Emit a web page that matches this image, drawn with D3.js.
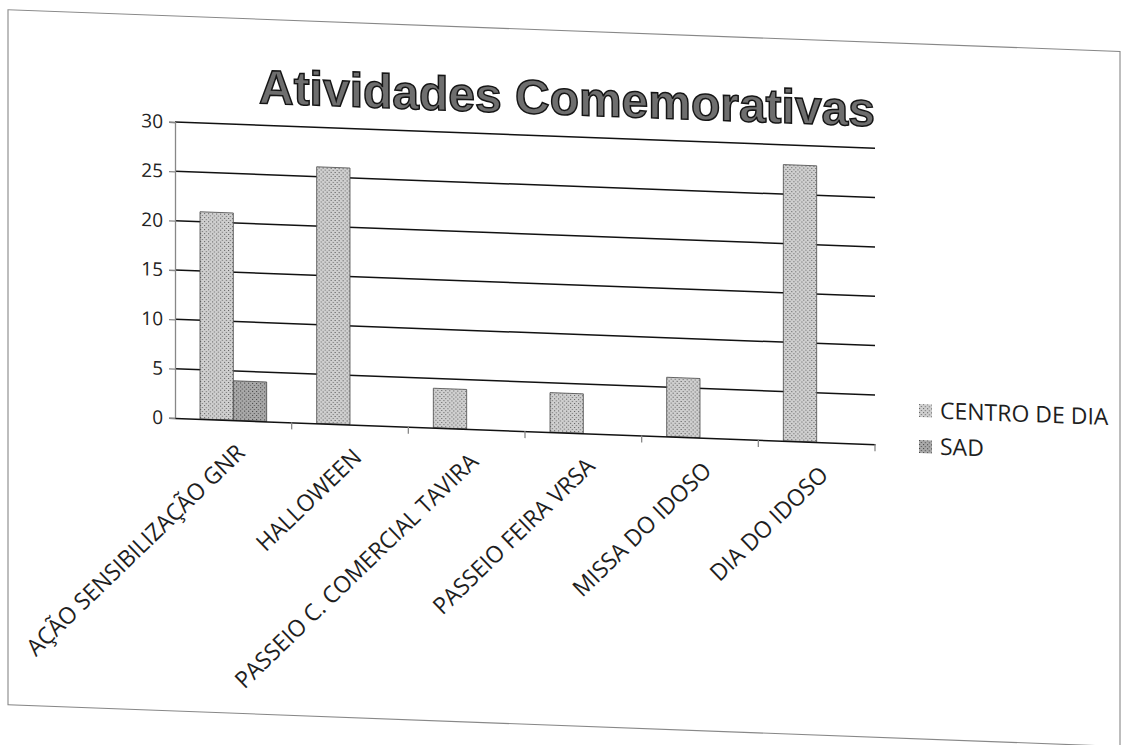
<!DOCTYPE html>
<html>
<head>
<meta charset="utf-8">
<script src="https://cdn.jsdelivr.net/npm/d3@7"></script>
<style>
  body { margin: 0; background: #fff; }
  text { font-family: "Open Sans", sans-serif; }
</style>
</head>
<body>
<div id="chart"></div>
<script>
// data
var categories = ["AÇÃO SENSIBILIZAÇÃO GNR", "HALLOWEEN", "PASSEIO C. COMERCIAL TAVIRA",
                  "PASSEIO FEIRA VRSA", "MISSA DO IDOSO", "DIA DO IDOSO"];
var centroDeDia = [21, 26, 4, 4, 6, 28];
var sad = [4, 0, 0, 0, 0, 0];
var seriesNames = ["CENTRO DE DIA", "SAD"];
var yTicks = [0, 5, 10, 15, 20, 25, 30];

var W = 1128, H = 745;
var plot = {left: 175, right: 875, top: 122, bottom: 418};
var skew = 2.15; // the page was scanned a bit crooked

var svg = d3.select("#chart")
  .append("svg")
    .attr("width", W)
    .attr("height", H);

// grainy fills like the photocopy
var defs = svg.append("defs");
function grain(id, bg, dot) {
  var p = defs.append("pattern")
    .attr("id", id)
    .attr("width", 4).attr("height", 4)
    .attr("patternUnits", "userSpaceOnUse");
  p.append("rect").attr("width", 4).attr("height", 4).attr("fill", bg);
  p.append("rect").attr("x", 0).attr("y", 0).attr("width", 1).attr("height", 1).attr("fill", dot);
  p.append("rect").attr("x", 2).attr("y", 2).attr("width", 1).attr("height", 1).attr("fill", dot);
}
grain("gCentro", "#cfcfcf", "#5a5a5a");
grain("gSad", "#a9a9a9", "#3c3c3c");
var fills = {"CENTRO DE DIA": "url(#gCentro)", "SAD": "url(#gSad)"};

var g = svg.append("g")
  .attr("transform", "translate(" + plot.left + ",0) skewY(" + skew + ") translate(" + (-plot.left) + ",0)");

// outer frame of the chart area
g.append("rect")
  .attr("x", 8).attr("y", 16)
  .attr("width", 1112).attr("height", 695)
  .attr("fill", "none")
  .attr("stroke", "#888")
  .attr("stroke-width", 1.1);

// title
g.append("text")
  .attr("x", 567)
  .attr("y", 100)
  .attr("text-anchor", "middle")
  .style("font-family", "'Liberation Sans', Arial, sans-serif")
  .style("font-weight", "bold")
  .style("font-size", "48px")
  .attr("fill", "#6e6e6e")
  .attr("stroke", "#151515")
  .attr("stroke-width", 1.5)
  .text("Atividades Comemorativas");

var x = d3.scaleBand()
  .domain(categories)
  .range([plot.left, plot.right]);

var y = d3.scaleLinear()
  .domain([0, 30])
  .range([plot.bottom, plot.top]);

var xSub = d3.scaleBand()
  .domain(seriesNames)
  .range([0, x.bandwidth() * 2 / 3.5]);

// gridlines
g.append("g")
  .selectAll("line")
  .data(yTicks.filter(function(d) { return d > 0; }))
  .enter()
  .append("line")
    .attr("x1", plot.left)
    .attr("x2", plot.right)
    .attr("y1", function(d) { return y(d); })
    .attr("y2", function(d) { return y(d); })
    .attr("stroke", "#111")
    .attr("stroke-width", 1.5);

// y axis
var yAxis = g.append("g")
  .attr("transform", "translate(" + plot.left + ",0)")
  .call(d3.axisLeft(y).tickValues(yTicks).tickSize(6).tickPadding(6));
yAxis.select(".domain").attr("stroke", "#888").attr("stroke-width", 1.3);
yAxis.selectAll(".tick line").attr("stroke", "#888").attr("stroke-width", 1.3);
yAxis.selectAll("text")
  .style("font-family", "'Open Sans', sans-serif")
  .style("font-size", "19px")
  .attr("fill", "#222");

// bars
var groups = g.append("g")
  .selectAll("g")
  .data(categories)
  .enter()
  .append("g")
    .attr("transform", function(d) {
      return "translate(" + (x(d) + x.bandwidth() / 2 - xSub.range()[1] / 2) + ",0)";
    });

groups.selectAll("rect")
  .data(function(d, i) {
    return [{key: "CENTRO DE DIA", value: centroDeDia[i]}, {key: "SAD", value: sad[i]}]
      .filter(function(e) { return e.value > 0; });
  })
  .enter()
  .append("rect")
    .attr("x", function(d) { return xSub(d.key); })
    .attr("y", function(d) { return y(d.value); })
    .attr("width", xSub.bandwidth())
    .attr("height", function(d) { return y(0) - y(d.value); })
    .attr("fill", function(d) { return fills[d.key]; })
    .attr("stroke", "#4a4a4a")
    .attr("stroke-width", 0.8);

// x axis
var xAxis = g.append("g")
  .attr("transform", "translate(0," + plot.bottom + ")")
  .call(d3.axisBottom(x).tickSize(0).tickFormat(""));
xAxis.select(".domain").attr("stroke", "#111").attr("stroke-width", 1.5);
xAxis.selectAll(".tick").remove();

// category separators on the x axis
g.append("g")
  .selectAll("line")
  .data(categories)
  .enter()
  .append("line")
    .attr("x1", function(d) { return x(d) + x.bandwidth(); })
    .attr("x2", function(d) { return x(d) + x.bandwidth(); })
    .attr("y1", plot.bottom)
    .attr("y2", plot.bottom + 7)
    .attr("stroke", "#888")
    .attr("stroke-width", 1.3);

// rotated category labels
g.append("g")
  .selectAll("text")
  .data(categories)
  .enter()
  .append("text")
    .attr("transform", function(d) {
      return "translate(" + (x(d) + x.bandwidth() / 2 + 13) + "," + (plot.bottom + 34) + ") rotate(-45)";
    })
    .attr("text-anchor", "end")
    .style("font-size", "23px")
    .attr("fill", "#1e1e1e")
    .text(function(d) { return d; });

// legend
var legend = g.append("g")
  .selectAll("g")
  .data(seriesNames)
  .enter()
  .append("g")
    .attr("transform", function(d, i) { return "translate(919," + (376 + i * 36) + ")"; });

legend.append("rect")
  .attr("width", 13)
  .attr("height", 13)
  .attr("fill", function(d) { return fills[d]; });

legend.append("text")
  .attr("x", 21)
  .attr("y", 14)
  .style("font-size", "23px")
  .attr("fill", "#1e1e1e")
  .text(function(d) { return d; });
</script>
</body>
</html>
